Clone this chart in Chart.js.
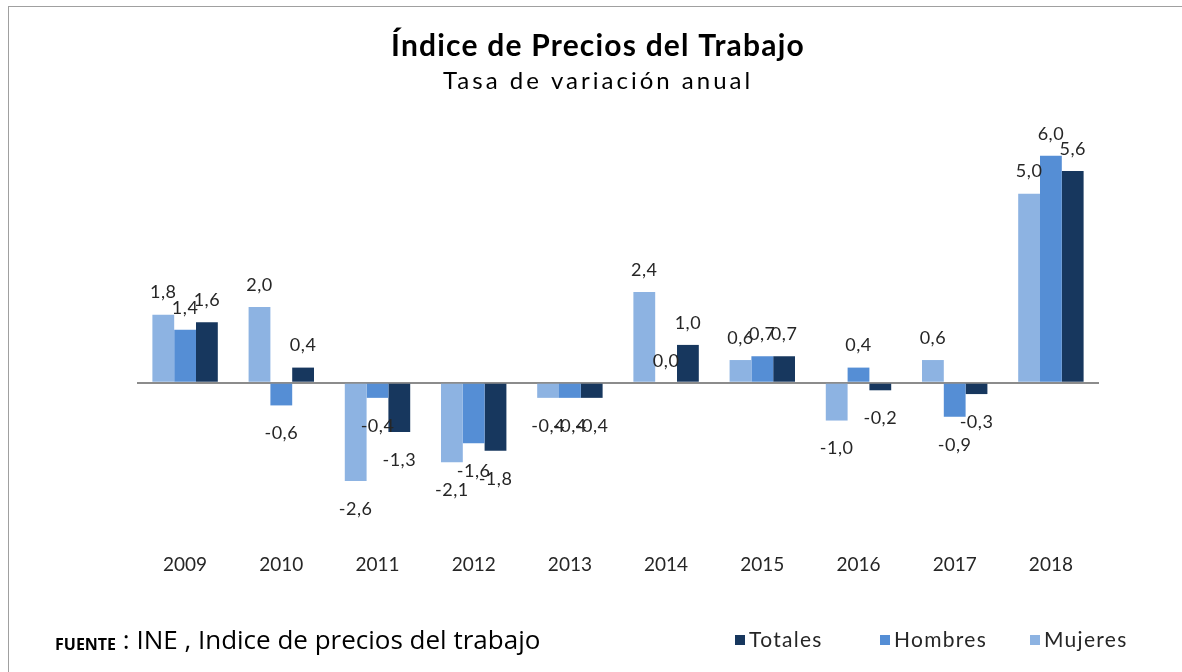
<!DOCTYPE html>
<html>
<head>
<meta charset="utf-8">
<script src="https://cdn.jsdelivr.net/npm/chart.js@4/dist/chart.umd.min.js"></script>
<style>
  html, body { margin: 0; padding: 0; background: #fff; }
  #wrap { position: relative; width: 1182px; height: 672px; overflow: hidden; }
  #frame { position: absolute; left: 8px; top: 6px; width: 1200px; height: 700px;
           border: 1.5px solid #a0a0a0; box-sizing: border-box; }
  canvas { position: absolute; left: 0; top: 0; }
</style>
</head>
<body>
<div id="wrap">
  <div id="frame"></div>
  <canvas id="grafico-ipt" width="1182" height="672"></canvas>
</div>
<script>
// datos
const anios    = ['2009','2010','2011','2012','2013','2014','2015','2016','2017','2018'];
const mujeres  = [1.8, 2.0, -2.6, -2.1, -0.4, 2.4, 0.6, -1.0, 0.6, 5.0];
const hombres  = [1.4, -0.6, -0.4, -1.6, -0.4, 0.0, 0.7, 0.4, -0.9, 6.0];
const totales  = [1.6, 0.4, -1.3, -1.8, -0.4, 1.0, 0.7, -0.2, -0.3, 5.6];

const titulo    = 'Índice de Precios del Trabajo';
const subtitulo = 'Tasa de variación anual';

const COLOR_MUJ = '#8db3e2';
const COLOR_HOM = '#558ed5';
const COLOR_TOT = '#17375e';

const FONT_GOTHIC = 'Lato, "DejaVu Sans", sans-serif';

// etiquetas de valor, títulos, leyenda y fuente
const textosPlugin = {
  id: 'textos',
  afterDatasetsDraw(chart) {
    const ctx = chart.ctx;
    ctx.save();
    ctx.fillStyle = '#262626';
    ctx.font = '18px ' + FONT_GOTHIC;
    ctx.letterSpacing = '0.5px';
    ctx.textAlign = 'center';
    ctx.textBaseline = 'middle';
    chart.data.datasets.forEach((ds, i) => {
      const meta = chart.getDatasetMeta(i);
      meta.data.forEach((bar, j) => {
        const v = ds.data[j];
        const txt = v.toFixed(1).replace('.', ',');
        const y = v >= 0 ? bar.y - 22 : bar.y + 28;
        ctx.fillText(txt, bar.x, y);
      });
    });
    ctx.restore();
  },
  afterDraw(chart) {
    const ctx = chart.ctx;
    ctx.save();
    ctx.fillStyle = '#000';
    ctx.textAlign = 'center';
    ctx.textBaseline = 'middle';
    ctx.font = 'bold 30px ' + FONT_GOTHIC;
    ctx.letterSpacing = '1.2px';
    ctx.fillText(titulo, 598, 46);
    ctx.font = '24px ' + FONT_GOTHIC;
    ctx.letterSpacing = '3px';
    ctx.fillText(subtitulo, 598, 81);

    // fuente
    ctx.textAlign = 'left';
    ctx.letterSpacing = '0px';
    ctx.font = 'bold 16px "Open Sans", sans-serif';
    ctx.fillText('FUENTE', 55, 645);
    const w = ctx.measureText('FUENTE').width;
    ctx.font = '26px "Open Sans", sans-serif';
    ctx.fillText(' : INE , Indice de precios del trabajo', 55 + w, 642);

    // leyenda (orden inverso)
    const items = [
      { txt: 'Totales', color: COLOR_TOT, x: 735 },
      { txt: 'Hombres', color: COLOR_HOM, x: 880 },
      { txt: 'Mujeres', color: COLOR_MUJ, x: 1030 }
    ];
    ctx.font = '21px ' + FONT_GOTHIC;
    ctx.letterSpacing = '1.3px';
    items.forEach(it => {
      ctx.fillStyle = it.color;
      ctx.fillRect(it.x, 635, 10, 10);
      ctx.fillStyle = '#262626';
      ctx.fillText(it.txt, it.x + 14, 640);
    });
    ctx.restore();
  }
};

const ctx = document.getElementById('grafico-ipt').getContext('2d');
new Chart(ctx, {
  type: 'bar',
  data: {
    labels: anios,
    datasets: [
      { label: 'Mujeres', data: mujeres, backgroundColor: COLOR_MUJ },
      { label: 'Hombres', data: hombres, backgroundColor: COLOR_HOM },
      { label: 'Totales', data: totales, backgroundColor: COLOR_TOT }
    ]
  },
  options: {
    responsive: false,
    animation: false,
    layout: { padding: { left: 137, right: 83, top: 118, bottom: 0 } },
    datasets: { bar: { categoryPercentage: 0.68, barPercentage: 1.0 } },
    plugins: {
      legend: { display: false },
      title: { display: false },
      tooltip: { enabled: false }
    },
    scales: {
      x: {
        grid: { display: false, drawTicks: false },
        border: { display: false },
        ticks: { color: '#262626', font: { size: 19, family: FONT_GOTHIC }, padding: 19 },
        afterFit(scale) { scale.height = 138; }
      },
      y: {
        display: true,
        min: -4,
        max: 7,
        border: { display: false },
        ticks: { display: false, stepSize: 1 },
        grid: {
          drawTicks: false,
          lineWidth: 2,
          color: c => (c.tick && c.tick.value === 0 ? '#8c8c8c' : 'rgba(0,0,0,0)')
        },
        afterFit(scale) { scale.width = 0; }
      }
    }
  },
  plugins: [textosPlugin]
});
</script>
</body>
</html>
